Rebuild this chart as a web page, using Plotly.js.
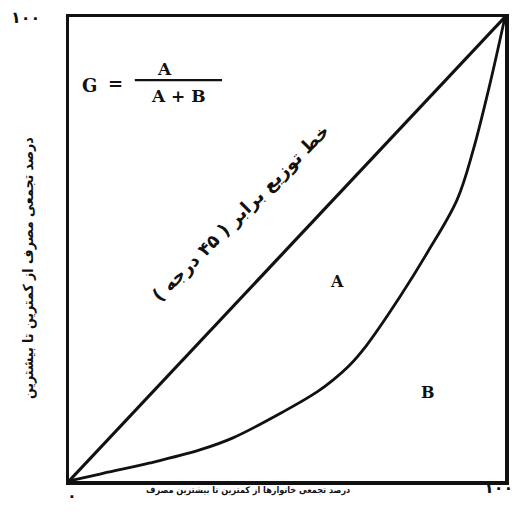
<!DOCTYPE html>
<html>
<head>
<meta charset="utf-8">
<script src="https://cdn.plot.ly/plotly-3.0.1.min.js"></script>
<style>html,body{margin:0;padding:0;background:#fff;}#chart{width:519px;height:512px;}</style>
</head>
<body>
<div id="chart"></div>
<script>
// Line of equality (45 degrees)
const equalityX = [0, 100];
const equalityY = [0, 100];
// Lorenz curve (cumulative % of households vs cumulative % of consumption)
const lorenzX = [0, 7.1, 18.6, 30.0, 37.6, 49.1, 56.9, 60.6, 64.4, 68.3, 75.9, 82.3, 89.0, 92.7, 96.6, 100];
const lorenzY = [0, 1.5, 3.9, 6.7, 9.3, 14.9, 19.2, 21.8, 25.0, 29.3, 39.7, 49.4, 60.6, 71.3, 85.8, 100];
// Tick labels
const xTickVals = [0, 100];
const xTickText = ['۰', '۱۰۰'];
const yTickVals = [100];
const yTickText = ['۱۰۰'];
// Texts
const xTitle = 'درصد تجمعی خانوارها از کمترین تا بیشترین مصرف';
const yTitle = 'درصد تجمعی مصرف از کمترین تا بیشترین';
const equalityLabel = 'خط توزیع برابر ( ۴۵ درجه )';
const areaLabels = ['A', 'B'];
const formula = {lhs: 'G', eq: '=', num: 'A', den: 'A + B'};

const serif = 'DejaVu Serif, Liberation Serif, serif';
const arab = 'DejaVu Sans, sans-serif';
const arabC = 'DejaVu Sans Condensed, DejaVu Sans, sans-serif';
const tickFont = {family: arab, size: 16, color: '#111', weight: 'bold'};

const traces = [
  {x: equalityX, y: equalityY, mode: 'lines', line: {color: '#111', width: 3.2}, cliponaxis: false, hoverinfo: 'skip'},
  {x: lorenzX, y: lorenzY, mode: 'lines', line: {color: '#111', width: 2.8, shape: 'spline', smoothing: 1}, cliponaxis: false, hoverinfo: 'skip'}
];

// x tick labels drawn as annotations anchored at the tick values (so the right one is not cut)
const xTickShift = [{dx: 3, dy: -14, anchor: 'center'}, {dx: 10, dy: -6, anchor: 'right'}];
const xTickAnns = xTickVals.map((v, i) => ({
  x: v, y: 0, xref: 'x', yref: 'y', text: xTickText[i], showarrow: false,
  xanchor: xTickShift[i].anchor, yanchor: 'middle', xshift: xTickShift[i].dx, yshift: xTickShift[i].dy,
  font: tickFont
}));

const layout = {
  width: 519, height: 512,
  margin: {l: 69, r: 14, t: 17, b: 31},
  paper_bgcolor: '#fff', plot_bgcolor: '#fff',
  showlegend: false,
  xaxis: {range: [0, 100], showgrid: false, zeroline: false, showline: true, mirror: true,
          linecolor: '#111', linewidth: 3.5, ticks: '', showticklabels: false},
  yaxis: {range: [0, 100], showgrid: false, zeroline: false, showline: true, mirror: true,
          linecolor: '#111', linewidth: 3.5, ticks: '', tickvals: yTickVals, ticktext: yTickText,
          tickfont: tickFont, ticklabelstandoff: 22},
  shapes: [
    {type: 'line', xref: 'x', yref: 'y', x0: 15.1, x1: 35.1, y0: 86.4, y1: 86.4, line: {color: '#111', width: 2.2}}
  ],
  annotations: xTickAnns.concat([
    {x: 4.8, y: 85.3, text: formula.lhs, showarrow: false, font: {family: serif, size: 18, color: '#111', weight: 'bold'}, xanchor: 'center', yanchor: 'middle'},
    {x: 10.6, y: 85.6, text: formula.eq, showarrow: false, font: {family: serif, size: 18, color: '#111', weight: 'bold'}, xanchor: 'center', yanchor: 'middle'},
    {x: 22.0, y: 88.8, text: formula.num, showarrow: false, font: {family: serif, size: 17, color: '#111', weight: 'bold'}, xanchor: 'center', yanchor: 'middle'},
    {x: 25.2, y: 83.0, text: formula.den, showarrow: false, font: {family: serif, size: 17, color: '#111', weight: 'bold'}, xanchor: 'center', yanchor: 'middle'},
    {x: 61.5, y: 43.0, text: areaLabels[0], showarrow: false, font: {family: serif, size: 16, color: '#111', weight: 'bold'}, xanchor: 'center', yanchor: 'middle'},
    {x: 82.3, y: 19.0, text: areaLabels[1], showarrow: false, font: {family: serif, size: 16, color: '#111', weight: 'bold'}, xanchor: 'center', yanchor: 'middle'},
    {x: 39.4, y: 57.8, text: equalityLabel, showarrow: false, textangle: -45, font: {family: arab, size: 18, color: '#111', weight: 'bold'}, xanchor: 'center', yanchor: 'middle'},
    {xref: 'paper', yref: 'paper', x: -0.094, y: 0.459, text: yTitle, showarrow: false, textangle: -90, font: {family: arabC, size: 14, color: '#111', weight: 'bold'}, xanchor: 'center', yanchor: 'middle'},
    {xref: 'paper', yref: 'paper', x: 0.41, y: -0.021, text: xTitle, showarrow: false, font: {family: arabC, size: 9, color: '#111', weight: 'bold'}, xanchor: 'center', yanchor: 'middle'}
  ])
};

Plotly.newPlot('chart', traces, layout, {staticPlot: true, displayModeBar: false});
</script>
</body>
</html>
